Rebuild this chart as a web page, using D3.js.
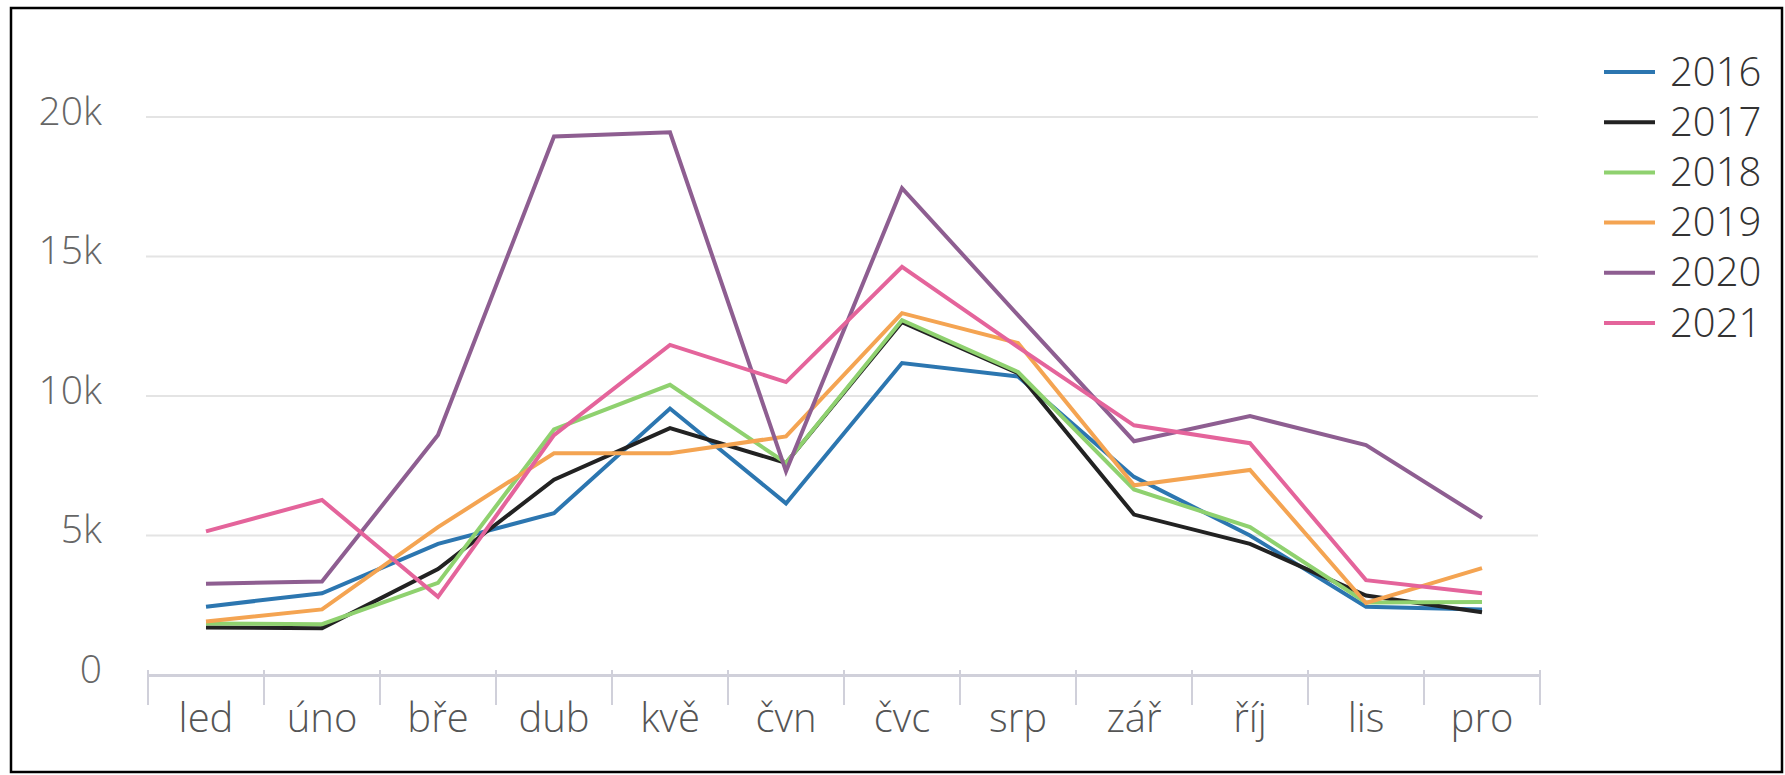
<!DOCTYPE html>
<html>
<head>
<meta charset="utf-8">
<script src="https://cdn.jsdelivr.net/npm/d3@7"></script>
<style>
  body { margin: 0; background: #fff; }
  svg text { font-family: "Open Sans", sans-serif; font-weight: 300; }
</style>
</head>
<body>
<div id="chart"></div>
<script>
// Data
var months = ["led", "úno", "bře", "dub", "kvě", "čvn", "čvc", "srp", "zář", "říj", "lis", "pro"];
var years = ["2016", "2017", "2018", "2019", "2020", "2021"];
var colors = ["#2c76b0", "#222222", "#8fd16f", "#f4a452", "#8e5e91", "#e4649b"];
var values2016 = [2450, 2930, 4700, 5800, 9550, 6150, 11180, 10700, 7100, 5000, 2450, 2350];
var values2017 = [1700, 1680, 3800, 7000, 8850, 7600, 12650, 10820, 5750, 4700, 2850, 2250];
var values2018 = [1850, 1820, 3300, 8800, 10400, 7600, 12720, 10860, 6650, 5300, 2600, 2620];
var values2019 = [1920, 2350, 5300, 7950, 7950, 8550, 12970, 11900, 6800, 7350, 2580, 3830];
var values2020 = [3270, 3350, 8600, 19300, 19450, 7300, 17450, 12900, 8380, 9280, 8240, 5630];
var values2021 = [5150, 6270, 2800, 8600, 11830, 10500, 14630, 11750, 8950, 8310, 3400, 2930];
var yTicks = [0, 5000, 10000, 15000, 20000];

var series = [values2016, values2017, values2018, values2019, values2020, values2021];

// Chart setup
var width = 1785, height = 775;
var svg = d3.select('#chart')
  .append('svg')
  .attr('width', width)
  .attr('height', height);

// Frame
svg.append('rect')
  .attr('x', 11).attr('y', 8)
  .attr('width', 1771).attr('height', 764)
  .attr('fill', 'none')
  .attr('stroke', '#000')
  .attr('stroke-width', 2.5);

var xScale = d3.scaleBand()
  .domain(months)
  .range([148, 1540]);
var yScale = d3.scaleLinear()
  .domain([0, 20000])
  .range([675, 117]);

// Grid
svg.selectAll('.grid')
  .data(yTicks.slice(1))
  .enter()
  .append('line')
  .attr('class', 'grid')
  .attr('x1', 146)
  .attr('x2', 1538)
  .attr('y1', function(d) { return yScale(d); })
  .attr('y2', function(d) { return yScale(d); })
  .attr('stroke', '#e4e4e4')
  .attr('stroke-width', 2);

// Y labels
svg.selectAll('.ylabel')
  .data(yTicks)
  .enter()
  .append('text')
  .attr('class', 'ylabel')
  .attr('x', 102)
  .attr('y', function(d) { return yScale(d) + 7.5; })
  .attr('text-anchor', 'end')
  .attr('font-size', 39)
  .attr('fill', '#666')
  .text(function(d) { return d === 0 ? '0' : (d / 1000) + 'k'; });

// X axis
var xAxis = d3.axisBottom(xScale)
  .tickSize(0)
  .tickSizeOuter(0)
  .tickPadding(0);
var gx = svg.append('g')
  .attr('transform', 'translate(0,675)')
  .call(xAxis);
gx.select('.domain')
  .attr('stroke', '#d0d0da')
  .attr('stroke-width', 3);
gx.selectAll('.tick text')
  .attr('y', 57)
  .attr('dy', null)
  .attr('font-size', 40)
  .attr('fill', '#555');

// tick marks at band edges
var edges = months.map(function(m) { return xScale(m); }).concat([xScale.range()[1]]);
gx.selectAll('.edge')
  .data(edges)
  .enter()
  .append('line')
  .attr('class', 'edge')
  .attr('x1', function(d) { return d; })
  .attr('x2', function(d) { return d; })
  .attr('y1', -5)
  .attr('y2', 30)
  .attr('stroke', '#d0d0da')
  .attr('stroke-width', 2);

// Lines
var line = d3.line()
  .x(function(d, i) { return xScale(months[i]) + xScale.bandwidth() / 2; })
  .y(function(d) { return yScale(d); });

svg.selectAll('.series')
  .data(series)
  .enter()
  .append('path')
  .attr('class', 'series')
  .attr('d', line)
  .attr('fill', 'none')
  .attr('stroke', function(d, i) { return colors[i]; })
  .attr('stroke-width', 4);

// Legend
var legend = svg.selectAll('.legend')
  .data(years)
  .enter()
  .append('g')
  .attr('class', 'legend')
  .attr('transform', function(d, i) { return 'translate(1604,' + (72 + i * 50.2) + ')'; });
legend.append('line')
  .attr('x1', 0).attr('x2', 51)
  .attr('y1', 0).attr('y2', 0)
  .attr('stroke', function(d, i) { return colors[i]; })
  .attr('stroke-width', 4);
legend.append('text')
  .attr('x', 66)
  .attr('y', 13.5)
  .attr('font-size', 40)
  .attr('fill', '#333')
  .text(function(d) { return d; });
</script>
</body>
</html>
